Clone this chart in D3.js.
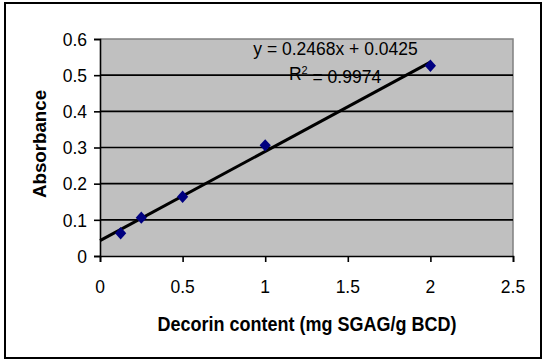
<!DOCTYPE html>
<html><head><meta charset="utf-8">
<script src="https://cdn.jsdelivr.net/npm/d3@7/dist/d3.min.js"></script>
<style>html,body{margin:0;padding:0;background:#fff;}svg{display:block;}</style>
</head><body>
<script>
// Data
const xValues = [0.125, 0.25, 0.5, 1, 2];
const yValues = [0.063, 0.106, 0.164, 0.306, 0.526];
const xTicks = [0, 0.5, 1, 1.5, 2, 2.5];
const yTicks = [0, 0.1, 0.2, 0.3, 0.4, 0.5, 0.6];
const trendCoef = [0.2468, 0.0425]; // slope, intercept
const trendRange = [0, 2];
const eqLabel = "y = 0.2468x + 0.0425";
const r2Label = "0.9974";
const xTitle = "Decorin content (mg SGAG/g BCD)";
const yTitle = "Absorbance";

(function () {
const W = 550, H = 362;
const pL = 100, pR = 513, pT = 39, pB = 256;

const svg = d3.select("body").append("svg").attr("width", W).attr("height", H);
const FONT = "Liberation Sans, Arial, sans-serif";

svg.append("rect").attr("x", 5).attr("y", 3).attr("width", 536).attr("height", 355)
  .attr("fill", "#fff").attr("stroke", "#000").attr("stroke-width", 2);

const x = d3.scaleLinear().domain([0, 2.5]).range([pL, pR]);
const y = d3.scaleLinear().domain([0, 0.6]).range([pB, pT]);

svg.append("rect").attr("x", pL).attr("y", pT).attr("width", pR - pL).attr("height", pB - pT)
  .attr("fill", "#c0c0c0");
svg.append("path").attr("d", `M${pL},${pT}H${pR}V${pB}`).attr("fill", "none")
  .attr("stroke", "#808080").attr("stroke-width", 1.5);

svg.append("g").selectAll("line").data(yTicks.filter(d => d > 0 && d < 0.6)).join("line")
  .attr("x1", pL).attr("x2", pR).attr("y1", d => y(d)).attr("y2", d => y(d))
  .attr("stroke", "#000").attr("stroke-width", 1.6);

const yAxis = d3.axisLeft(y).tickValues(yTicks).tickSize(6).tickFormat("");
const xAxis = d3.axisBottom(x).tickValues(xTicks).tickSize(6).tickFormat("");
const ga = svg.append("g").attr("transform", `translate(${pL},0)`).call(yAxis);
const gb = svg.append("g").attr("transform", `translate(0,${pB})`).call(xAxis);
[ga, gb].forEach(g => {
  g.select(".domain").attr("stroke", "#000").attr("stroke-width", 1.6);
  g.selectAll(".tick line").attr("stroke", "#000").attr("stroke-width", 1.6);
});

function txt(px, py, s, opts) {
  const g = svg.append("g").attr("transform", `translate(${px},${py})` + (opts.rot ? ` rotate(${opts.rot})` : ""));
  const t = g.append("text")
    .attr("transform", opts.rot ? `scale(${opts.k},1)` : `scale(1,${opts.k})`)
    .attr("text-anchor", opts.anchor || "middle")
    .attr("dy", "0.36em")
    .attr("font-family", FONT)
    .attr("font-size", opts.size)
    .attr("font-weight", opts.bold ? "bold" : "normal")
    .attr("fill", "#000");
  return t.text(s);
}

yTicks.forEach(d => txt(87, y(d), String(d), {anchor: "end", size: 17.5, k: 1.07}));
xTicks.forEach(d => txt(x(d), 286, String(d), {anchor: "middle", size: 17.5, k: 1.07}));

txt(307, 323.5, xTitle, {bold: true, size: 18, k: 1.08});
txt(40, 144, yTitle, {bold: true, size: 17.5, k: 1.07, rot: -90});

svg.append("line")
  .attr("x1", x(trendRange[0])).attr("y1", y(trendCoef[0] * trendRange[0] + trendCoef[1]))
  .attr("x2", x(trendRange[1])).attr("y2", y(trendCoef[0] * trendRange[1] + trendCoef[1]))
  .attr("stroke", "#000").attr("stroke-width", 3);

const diamond = { draw(ctx) { const w = 5.6, h = 6.2; ctx.moveTo(0, -h); ctx.lineTo(w, 0); ctx.lineTo(0, h); ctx.lineTo(-w, 0); ctx.closePath(); } };
svg.append("g").selectAll("path").data(xValues.map((v, i) => [v, yValues[i]])).join("path")
  .attr("transform", d => `translate(${x(d[0])},${y(d[1])})`)
  .attr("d", d3.symbol().type(diamond).size(64)())
  .attr("fill", "#000080");

txt(335.5, 48, eqLabel, {size: 17.5, k: 1.05});
const r = txt(335, 73, "", {size: 17.5, k: 1.05});
r.append("tspan").text("R");
r.append("tspan").attr("dy", "-0.5em").attr("font-size", 11).text("2");
r.append("tspan").attr("dy", "0.5em").text(" = " + r2Label);
})();
</script>
</body></html>
